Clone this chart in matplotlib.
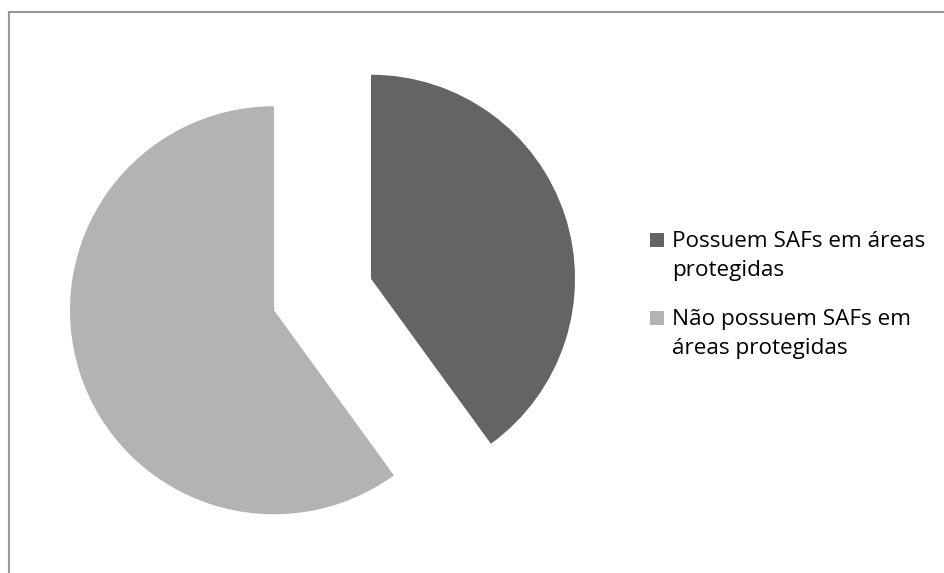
import matplotlib
matplotlib.use("Agg")
import matplotlib.pyplot as plt
from matplotlib.patches import Rectangle
from matplotlib.lines import Line2D
from matplotlib.transforms import IdentityTransform

# data
labels = ["Possuem SAFs em áreas\nprotegidas",
          "Não possuem SAFs em\náreas protegidas"]
values = [40, 60]
colors = ["#646464", "#b3b3b3"]

W, H = 944, 573
fig = plt.figure(figsize=(W / 100, H / 100), dpi=100)
ax = fig.add_axes([0, 0, 1, 1])

# pie, both slices pulled out (explode is in data units here since radius is in px)
wedges, _ = ax.pie(values, colors=colors, startangle=90, counterclock=False,
                   radius=204, center=(322.5, H - 294.5),
                   explode=[51, 51], frame=True,
                   wedgeprops=dict(linewidth=0))
ax.set_xlim(0, W)
ax.set_ylim(0, H)
ax.set_aspect("equal")
ax.axis("off")

# legend drawn by hand so the square sits on the first line
px = IdentityTransform()
first_baselines = [247, 325]
line_gap = 29
for lab, col, yb in zip(labels, colors, first_baselines):
    fig.add_artist(Rectangle((650, H - yb), 14, 14.5, transform=px,
                             facecolor=col, edgecolor="none"))
    for i, line in enumerate(lab.split("\n")):
        fig.text(672, H - (yb + i * line_gap), line, transform=px,
                 family="Open Sans", fontsize=16.2, color="#000000",
                 va="baseline", ha="left")

# outer frame: only the left and top edges show
fig.add_artist(Line2D([8.5, 8.5], [0, H - 11.5], transform=px,
                      color="#999999", lw=1.5))
fig.add_artist(Line2D([8.5, W], [H - 11.5, H - 11.5], transform=px,
                      color="#999999", lw=1.5))

fig.savefig("out.png", dpi=100)
